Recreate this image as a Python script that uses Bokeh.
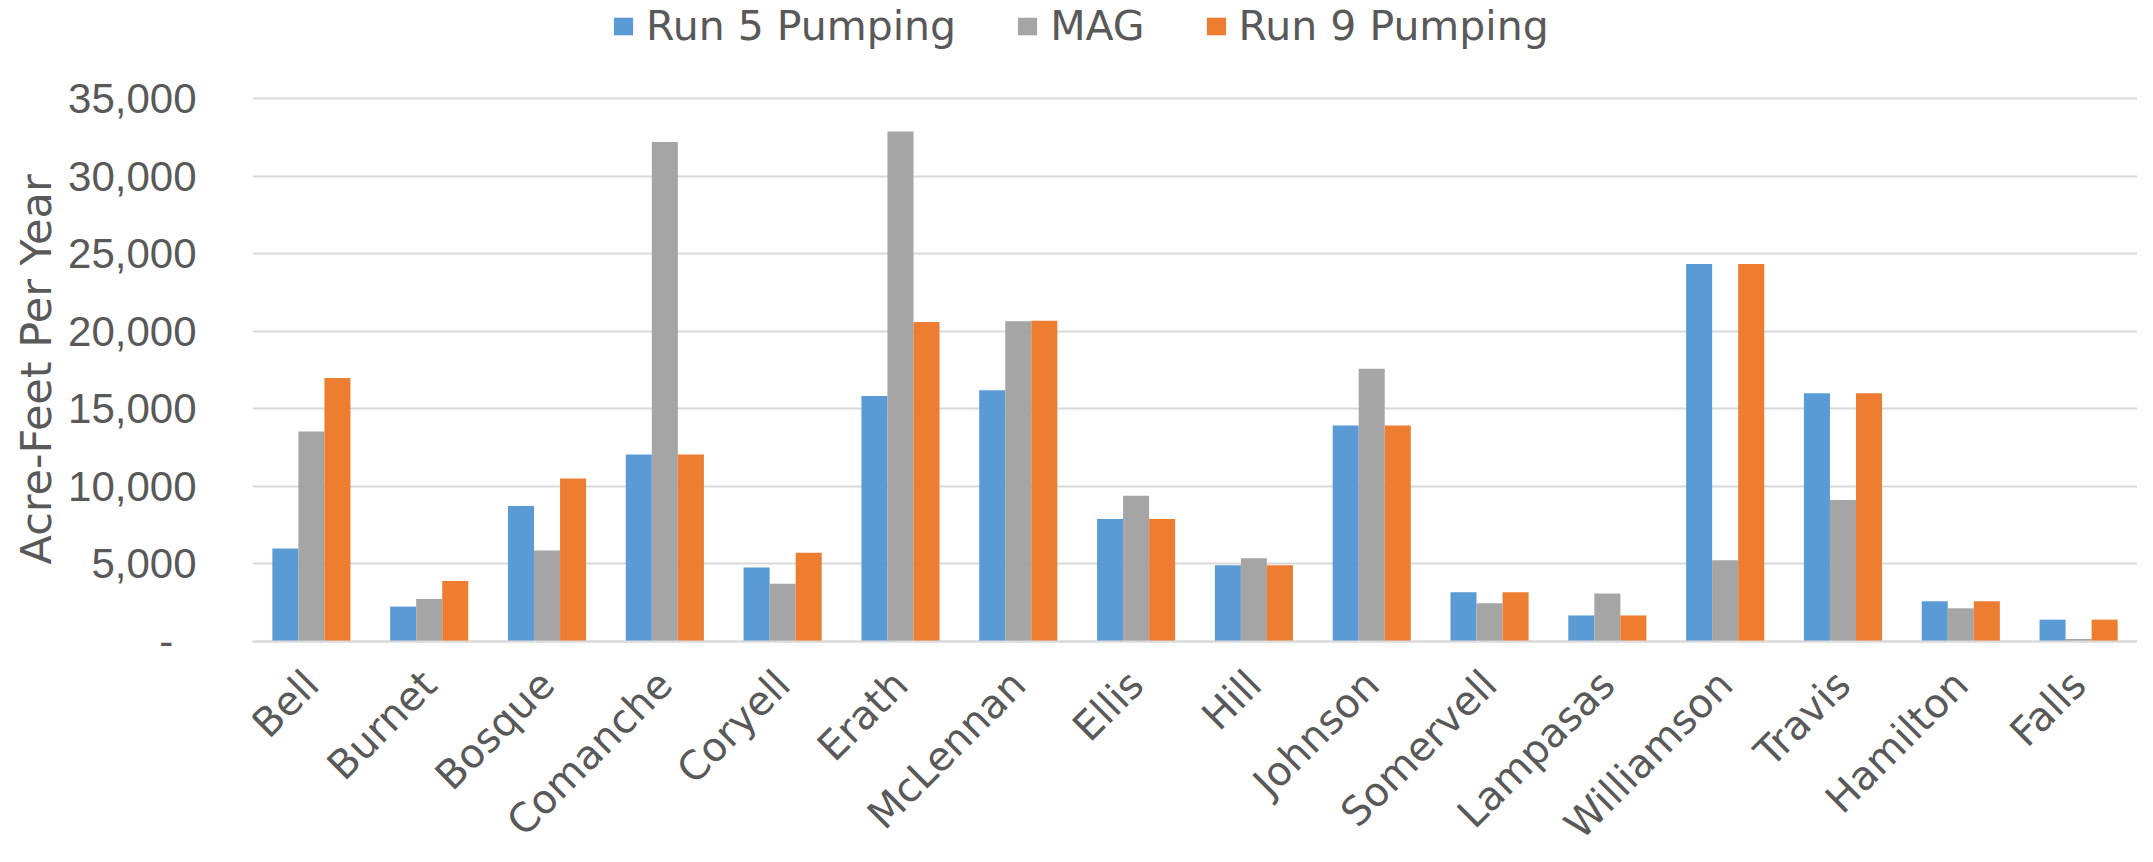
from bokeh.plotting import figure
from bokeh.models import (FactorRange, Range1d, Legend, LegendItem, FixedTicker,
                          NumeralTickFormatter, ColumnDataSource, Title)
from bokeh.transform import dodge
from bokeh.embed import file_html
from bokeh.resources import INLINE
import math

counties = ["Bell", "Burnet", "Bosque", "Comanche", "Coryell", "Erath", "McLennan",
            "Ellis", "Hill", "Johnson", "Somervell", "Lampasas", "Williamson",
            "Travis", "Hamilton", "Falls"]
run5 = [6000, 2250, 8740, 12050, 4770, 15820, 16200, 7900, 4910, 13920, 3170,
        1680, 24340, 16000, 2600, 1410]
mag = [13540, 2740, 5860, 32200, 3720, 32880, 20650, 9390, 5370, 17580, 2470,
       3090, 5240, 9120, 2140, 160]
run9 = [16980, 3900, 10500, 12050, 5720, 20590, 20670, 7900, 4910, 13920, 3170,
        1680, 24340, 16000, 2600, 1410]
series_names = ["Run 5 Pumping", "MAG", "Run 9 Pumping"]
y_ticks = [0, 5000, 10000, 15000, 20000, 25000, 30000, 35000]
y_title = "Acre-Feet Per Year"

colors = ["#5B9BD5", "#A5A5A5", "#ED7D31"]
text_color = "#595959"
grid_color = "#D9D9D9"

W, H = 2137, 846
top_px, bottom_px = 98, 641          # canvas rows of 35,000 and 0
ymax = 35000
per_px = ymax / (bottom_px - top_px)
y_start = -(H - bottom_px) * per_px
y_end = ymax + top_px * per_px

src = ColumnDataSource(dict(county=counties, run5=run5, mag=mag, run9=run9))

p = figure(width=W, height=H, x_range=FactorRange(*counties, range_padding=0),
           y_range=Range1d(y_start, y_end), output_backend="svg", toolbar_location=None,
           min_border_left=252, min_border_right=0, min_border_top=0,
           min_border_bottom=0)
p.outline_line_color = None
p.background_fill_color = "white"

bw = 0.221
renderers = []
for i, (col, c) in enumerate(zip(["run5", "mag", "run9"], colors)):
    r = p.vbar(x=dodge("county", (i - 1) * bw, range=p.x_range), top=col, width=bw,
               source=src, fill_color=c, line_color=None)
    renderers.append(r)

# x axis drawn at y = 0 inside the frame
p.xaxis.fixed_location = 0
p.xaxis.axis_line_color = grid_color
p.xaxis.axis_line_width = 2
p.xaxis.major_tick_line_color = None
p.xaxis.minor_tick_line_color = None
p.xaxis.major_label_orientation = math.pi / 4
p.xaxis.major_label_standoff = 30
p.xaxis.major_label_text_font = "DejaVu Sans"
p.xaxis.major_label_text_font_size = "40px"
p.xaxis.major_label_text_color = text_color
p.xgrid.grid_line_color = None

p.ygrid.grid_line_color = grid_color
p.ygrid.grid_line_width = 2
p.yaxis.ticker = FixedTicker(ticks=y_ticks)
p.yaxis.formatter = NumeralTickFormatter(format="0,0")
p.yaxis.major_label_overrides = {0: "-\u2007"}
p.yaxis.axis_line_color = None
p.yaxis.major_tick_line_color = None
p.yaxis.minor_tick_line_color = None
p.yaxis.major_label_text_font = "Liberation Sans"
p.yaxis.major_label_text_font_size = "42px"
p.yaxis.major_label_text_color = text_color
p.yaxis.major_label_standoff = 50

ttl = Title(text=y_title, align="left", offset=282, text_font="DejaVu Sans",
            text_font_size="43px", text_font_style="normal", text_color=text_color,
            standoff=10)
p.add_layout(ttl, "left")

legend = Legend(items=[LegendItem(label=n, renderers=[r]) for n, r in zip(series_names, renderers)],
                orientation="horizontal", location=(359, H - 50))
legend.label_text_font = "DejaVu Sans"
legend.label_text_font_size = "41px"
legend.label_text_color = text_color
legend.glyph_width = 24
legend.glyph_height = 22
legend.label_standoff = 11
legend.spacing = 59
legend.padding = 0
legend.margin = 0
legend.border_line_color = None
legend.background_fill_alpha = 0
p.add_layout(legend)

open("out.html", "w").write(file_html(p, INLINE))
